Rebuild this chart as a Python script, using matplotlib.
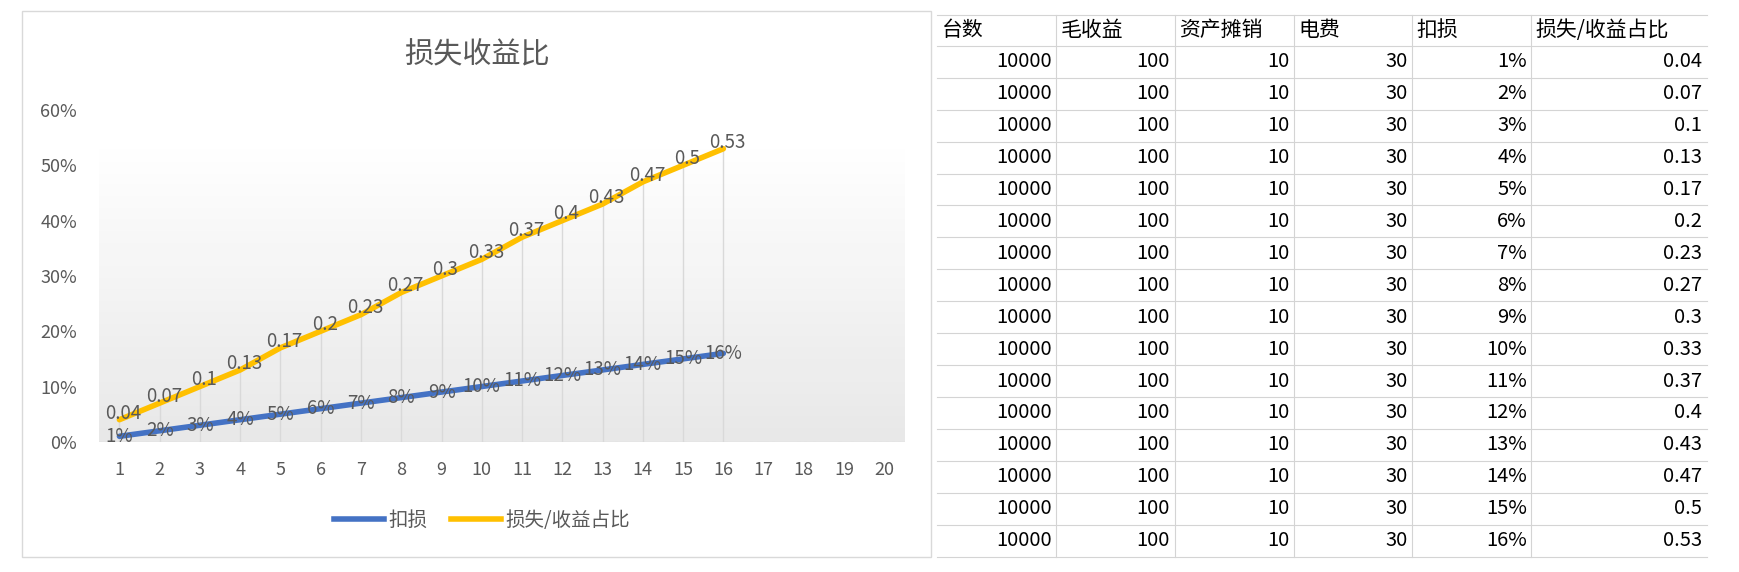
import matplotlib
matplotlib.use("Agg")
import matplotlib.pyplot as plt
import numpy as np
from matplotlib.lines import Line2D

plt.rcParams['font.family'] = ['Noto Sans CJK SC', 'DejaVu Sans']

x = list(range(1, 17))
kousun = [0.01,0.02,0.03,0.04,0.05,0.06,0.07,0.08,0.09,0.10,0.11,0.12,0.13,0.14,0.15,0.16]
ratio = [0.04,0.07,0.1,0.13,0.17,0.2,0.23,0.27,0.3,0.33,0.37,0.4,0.43,0.47,0.5,0.53]
ratio_labels = ["0.04","0.07","0.1","0.13","0.17","0.2","0.23","0.27","0.3","0.33","0.37","0.4","0.43","0.47","0.5","0.53"]
xticks = list(range(1, 21))
headers = ["台数", "毛收益", "资产摊销", "电费", "扣损", "损失/收益占比"]
taishu = [10000]*16
maoshouyi = [100]*16
zichan = [10]*16
dianfei = [30]*16

W = 1560.0
fig = plt.figure(figsize=(17.4, 5.72), dpi=100)
gray = "#595959"

def fx(px): return px / W
def fy(py): return 1 - py / W

fig.add_artist(plt.Rectangle((fx(20), fy(1520)), fx(835)-fx(20), fy(30)-fy(1520),
                             fill=False, ec="#d9d9d9", lw=1, transform=fig.transFigure))

ax = fig.add_axes([fx(89), fy(1205), fx(811)-fx(89), fy(300)-fy(1205)])
ax.set_xlim(0.5, 20.5)
ax.set_ylim(0, 0.6)
grad = np.linspace(0, 1, 100).reshape(-1, 1)
ax.imshow(grad, extent=(0.5, 20.5, 0, 0.53), aspect='auto', origin='lower',
          cmap=matplotlib.colors.LinearSegmentedColormap.from_list('g', ['#e6e6e6', '#ffffff']),
          zorder=0, alpha=0.9)
for xi, r in zip(x, ratio):
    ax.plot([xi, xi], [0, r], color="#d9d9d9", lw=1, zorder=1)
ax.plot(x, kousun, color="#4472c4", lw=4, zorder=3, solid_capstyle='round')
ax.plot(x, ratio, color="#ffc000", lw=4, zorder=3, solid_capstyle='round')
for xi, v in zip(x, kousun):
    ax.text(xi, v, f"{round(v*100)}%", ha='center', va='center', fontsize=13.5, color=gray, zorder=4)
for xi, v, l in zip(x, ratio, ratio_labels):
    ax.text(xi + 0.1, v + 0.012, l, ha='center', va='center', fontsize=13.5, color=gray, zorder=4)
ax.set_xticks(xticks)
ax.set_yticks(np.arange(0, 0.61, 0.1))
ax.set_yticklabels([f"{int(round(t*100))}%" for t in np.arange(0, 0.61, 0.1)])
ax.tick_params(length=0, labelsize=13, colors=gray)
ax.tick_params(axis='x', pad=14)
ax.tick_params(axis='y', pad=16)
for s in ax.spines.values():
    s.set_visible(False)
ax.axhline(0, color="#d9d9d9", lw=1)
fig.text(fx(428), fy(150), "损失收益比", ha='center', va='center', fontsize=21, color=gray)
ax.legend(handles=[Line2D([], [], color="#4472c4", lw=4), Line2D([], [], color="#ffc000", lw=4)],
          labels=["扣损", "损失/收益占比"], loc='center', bbox_to_anchor=(fx(432), fy(1420)),
          bbox_transform=fig.transFigure, ncol=2, frameon=False, fontsize=14,
          labelcolor=gray, handlelength=2.6, columnspacing=1.2, handletextpad=0.2)

cols = [840, 947, 1053, 1160, 1266, 1373, 1530]
top = 40
hdr_bottom = 125
rh = (1518 - 125) / 16.0
rows_y = [hdr_bottom + i * rh for i in range(17)]
for c in cols[1:-1]:
    fig.add_artist(Line2D([fx(c), fx(c)], [fy(top), fy(1518)], color="#d4d4d4", lw=0.8))
fig.add_artist(Line2D([fx(840), fx(1530)], [fy(top), fy(top)], color="#d4d4d4", lw=0.8))
for ry in rows_y:
    fig.add_artist(Line2D([fx(840), fx(1530)], [fy(ry), fy(ry)], color="#d4d4d4", lw=0.8))
for i, h in enumerate(headers):
    fig.text(fx(cols[i] + 4), fy((top + hdr_bottom) / 2), h, ha='left', va='center', fontsize=15, color='black')
for r in range(16):
    yc = fy(rows_y[r] + rh / 2)
    vals = [str(taishu[r]), str(maoshouyi[r]), str(zichan[r]), str(dianfei[r]),
            f"{round(kousun[r]*100)}%", ratio_labels[r]]
    for i, v in enumerate(vals):
        fig.text(fx(cols[i + 1] - 4), yc, v, ha='right', va='center', fontsize=14.5, color='black')

fig.savefig("out.png", dpi=100)
